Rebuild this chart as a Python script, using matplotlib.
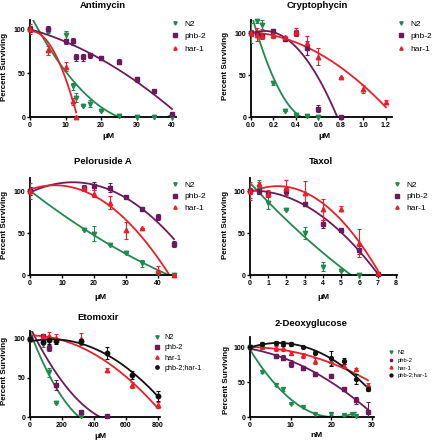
import matplotlib

matplotlib.use("Agg")
import matplotlib.pyplot as plt  # noqa: E402
import numpy as np  # noqa: E402

W, H = 432, 440

GREEN = "#1f8a4e"
PURPLE = "#6b1a5c"
RED = "#e8202a"
BLACK = "#111111"

# ---- Antimycin ----
anti_x = [0, 5, 10, 12, 13, 15, 17, 20, 25, 30, 35, 40]
anti_n2 = [100, 98, 93, 35, 22, 12, 15, 7, 1, 0, 0, 0]
anti_n2_err = [3, 3, 5, 4, 5, 0, 4, 0, 2, 0, 0, 0]
anti_phb2 = [100, 100, 86, 86, 68, 68, 70, 67, 63, 43, 29, 3]
anti_phb2_err = [3, 3, 3, 4, 4, 4, 3, 2, 3, 3, 2, 2]
anti_har1_x = [0, 5, 10, 12, 13]
anti_har1 = [100, 76, 57, 18, 0]
anti_har1_err = [6, 5, 5, 4, 0]

# ---- Cryptophycin ----
cryp_n2_x = [0, 0.05, 0.1, 0.2, 0.3, 0.4, 0.5, 0.6]
cryp_n2 = [100, 114, 110, 40, 7, 2, 1, 0]
cryp_n2_err = [12, 2, 5, 2, 0, 0, 0, 0]
cryp_phb2_x = [0, 0.05, 0.1, 0.2, 0.3, 0.4, 0.5, 0.6, 0.8]
cryp_phb2 = [100, 100, 97, 102, 93, 100, 82, 10, 0]
cryp_phb2_err = [3, 2, 2, 3, 2, 3, 8, 4, 0]
cryp_har1_x = [0, 0.05, 0.1, 0.2, 0.3, 0.4, 0.5, 0.6, 0.8, 1.0, 1.2]
cryp_har1 = [100, 98, 96, 98, 95, 101, 88, 72, 48, 33, 18]
cryp_har1_err = [4, 8, 3, 4, 2, 5, 8, 10, 0, 5, 2]

# ---- Peloruside A ----
pelo_x = [0, 17, 20, 25, 30, 35, 40, 45]
pelo_n2 = [100, 54, 49, 36, 26, 14, 2, 0]
pelo_n2_err = [5, 0, 9, 0, 0, 4, 0, 0]
pelo_phb2 = [100, 104, 106, 104, 93, 79, 69, 37]
pelo_phb2_err = [5, 3, 5, 5, 1, 1, 4, 4]
pelo_har1 = [100, 103, 97, 86, 53, 56, 5, 0]
pelo_har1_err = [10, 3, 4, 8, 10, 0, 6, 0]

# ---- Taxol ----
taxol_n2_x = [0, 0.5, 1, 2, 3, 4, 5, 6]
taxol_n2 = [100, 105, 86, 77, 50, 10, 5, 0]
taxol_n2_err = [8, 8, 8, 0, 7, 5, 0, 0]
taxol_x = [0, 0.5, 1, 2, 3, 4, 5, 6, 7]
taxol_phb2 = [100, 100, 96, 100, 84, 61, 53, 30, 1]
taxol_phb2_err = [4, 3, 3, 3, 2, 5, 2, 5, 1]
taxol_har1 = [100, 108, 97, 104, 98, 78, 79, 38, 2]
taxol_har1_err = [11, 3, 4, 9, 14, 13, 3, 17, 2]

# ---- Etomoxir ----
eto_n2_x = [0, 80, 120, 160, 320]
eto_n2 = [100, 93, 57, 18, 1]
eto_n2_err = [3, 4, 6, 0, 0]
eto_phb2_x = [0, 80, 120, 160, 320, 480]
eto_phb2 = [100, 103, 88, 41, 7, 1]
eto_phb2_err = [3, 2, 4, 6, 0, 0]
eto_x = [0, 80, 120, 160, 320, 480, 640, 800]
eto_har1 = [100, 104, 104, 101, 100, 60, 41, 15]
eto_har1_err = [3, 2, 5, 5, 8, 3, 4, 4]
eto_double = [100, 96, 98, 97, 97, 82, 54, 27]
eto_double_err = [3, 3, 4, 3, 3, 8, 5, 6]

# ---- 2-Deoxyglucose ----
dg_n2_x = [0, 3, 6.5, 8, 10, 13, 16, 20, 23, 25, 26]
dg_n2 = [100, 65, 46, 40, 18, 14, 4, 5, 3, 5, 2]
dg_n2_err = [2, 2, 2, 3, 0, 0, 0, 2, 2, 0, 0]
dg_phb2_x = [0, 6.5, 8, 10, 13, 16, 20, 23, 26, 29]
dg_phb2 = [100, 87, 85, 76, 70, 61, 59, 40, 24, 7]
dg_phb2_err = [3, 3, 3, 5, 3, 3, 3, 2, 5, 15]
dg_x = [0, 3, 6.5, 8, 10, 13, 16, 20, 23, 26, 29]
dg_har1 = [100, 100, 98, 98, 91, 88, 80, 80, 73, 68, 46]
dg_har1_err = [3, 2, 3, 3, 2, 3, 4, 5, 3, 2, 2]
dg_double = [100, 104, 106, 105, 104, 100, 92, 84, 80, 54, 40]
dg_double_err = [3, 3, 3, 3, 3, 1, 2, 11, 4, 7, 3]

FONT = "Liberation Sans"
plt.rcParams["font.family"] = [FONT, "DejaVu Sans"]


def fx(px):
    return px / W


def fy(py):
    return 1 - py / H


def add_panel(fig, left, right, top, bottom, xlim, ylim, xticks, xfmt):
    ax = fig.add_axes([fx(left), fy(bottom), (right - left) / W, (bottom - top) / H])
    ax.set_xlim(*xlim)
    ax.set_ylim(*ylim)
    ax.set_xticks(xticks)
    ax.set_xticklabels([xfmt.format(t) for t in xticks])
    ax.set_yticks([0, 50, 100])
    for side in ("top", "right"):
        ax.spines[side].set_visible(False)
    for side in ("left", "bottom"):
        ax.spines[side].set_linewidth(1.3)
    ax.tick_params(direction="out", length=2.5, width=1.0, pad=1, labelsize=5)
    for lab in ax.get_xticklabels() + ax.get_yticklabels():
        lab.set_fontweight("bold")
    ax.patch.set_alpha(0)
    return ax


def series(ax, x, y, err, color, marker, label, ms=3.2):
    x = np.asarray(x, dtype=float)
    y = np.asarray(y, dtype=float)
    coef = np.polyfit(x, y, 2)
    xs = np.linspace(0, x.max(), 300)
    ax.plot(xs, np.polyval(coef, xs), color=color, lw=1.3, zorder=2)
    ax.errorbar(x, y, yerr=err, fmt="none", ecolor=color, elinewidth=0.8,
                capsize=1.6, capthick=0.8, zorder=3)
    ax.plot(x, y, linestyle="none", marker=marker, color=color, ms=ms,
            clip_on=False, zorder=4, label=label)


def legend(ax, fig, x, y, size, spacing):
    ax.legend(loc="upper left", bbox_to_anchor=(fx(x), fy(y)),
              bbox_transform=fig.transFigure, frameon=False, fontsize=size,
              handlelength=1.0, handletextpad=0.6, borderpad=0,
              borderaxespad=0, labelspacing=spacing, markerscale=0.75)


def labels(fig, title, tpos, xlab, xpos, ypos):
    fig.text(fx(tpos[0]), fy(tpos[1]), title, ha="center", va="center",
             fontsize=6.8, fontweight="bold")
    fig.text(fx(xpos[0]), fy(xpos[1]), xlab, ha="center", va="center",
             fontsize=6, fontweight="bold")
    fig.text(fx(ypos[0]), fy(ypos[1]), "Percent Surviving", ha="center",
             va="center", rotation=90, fontsize=5.8, fontweight="bold")


fig = plt.figure(figsize=(W / 100, H / 100), dpi=100)

# Antimycin
ax = add_panel(fig, 30, 175.6, 20.2, 117, (0, 41), (0, 110), [0, 10, 20, 30, 40], "{:g}")
series(ax, anti_x, anti_n2, anti_n2_err, GREEN, "v", "N2")
series(ax, anti_x, anti_phb2, anti_phb2_err, PURPLE, "s", "phb-2")
series(ax, anti_har1_x, anti_har1, anti_har1_err, RED, "^", "har-1")
legend(ax, fig, 171, 20, 6, 0.55)
labels(fig, "Antimycin", (103, 5), "μM", (108, 137), (5, 67))

# Cryptophycin
ax = add_panel(fig, 251, 391.6, 20.4, 117, (0, 1.25), (0, 115),
               [0, 0.2, 0.4, 0.6, 0.8, 1.0, 1.2], "{:.1f}")
series(ax, cryp_n2_x, cryp_n2, cryp_n2_err, GREEN, "v", "N2")
series(ax, cryp_phb2_x, cryp_phb2, cryp_phb2_err, PURPLE, "s", "phb-2")
series(ax, cryp_har1_x, cryp_har1, cryp_har1_err, RED, "^", "har-1")
legend(ax, fig, 397, 20, 6, 0.55)
labels(fig, "Cryptophycin", (317, 5), "μM", (324, 137), (225, 66))

# Peloruside A
ax = add_panel(fig, 30, 175.6, 178.4, 275, (0, 45.5), (0, 115), [0, 10, 20, 30, 40], "{:g}")
series(ax, pelo_x, pelo_n2, pelo_n2_err, GREEN, "v", "N2")
series(ax, pelo_x, pelo_phb2, pelo_phb2_err, PURPLE, "s", "phb-2")
series(ax, pelo_x, pelo_har1, pelo_har1_err, RED, "^", "har-1")
legend(ax, fig, 171, 181, 6, 0.45)
labels(fig, "Peloruside A", (103, 162), "μM", (100, 297), (5, 225))

# Taxol
ax = add_panel(fig, 250, 396.9, 178.4, 275, (0, 8.05), (0, 115), list(range(9)), "{:g}")
series(ax, taxol_n2_x, taxol_n2, taxol_n2_err, GREEN, "v", "N2")
series(ax, taxol_x, taxol_phb2, taxol_phb2_err, PURPLE, "s", "phb-2")
series(ax, taxol_x, taxol_har1, taxol_har1_err, RED, "^", "har-1")
legend(ax, fig, 393, 181, 6, 0.45)
labels(fig, "Taxol", (321, 162), "μM", (323, 297), (225, 225))

# Etomoxir
ax = add_panel(fig, 30, 159.6, 331, 417, (0, 810), (0, 110), [0, 200, 400, 600, 800], "{:g}")
series(ax, eto_n2_x, eto_n2, eto_n2_err, GREEN, "v", "N2")
series(ax, eto_phb2_x, eto_phb2, eto_phb2_err, PURPLE, "s", "phb-2")
series(ax, eto_x, eto_har1, eto_har1_err, RED, "^", "har-1")
series(ax, eto_x, eto_double, eto_double_err, BLACK, "o", "phb-2;har-1")
legend(ax, fig, 153, 334, 5.2, 0.45)
labels(fig, "Etomoxir", (98, 317), "μM", (100, 436), (5, 371))

# 2-Deoxyglucose
ax = add_panel(fig, 250, 374, 336.5, 417, (0, 30.5), (0, 115), [0, 10, 20, 30], "{:g}")
series(ax, dg_n2_x, dg_n2, dg_n2_err, GREEN, "v", "N2", ms=2.8)
series(ax, dg_phb2_x, dg_phb2, dg_phb2_err, PURPLE, "s", "phb-2", ms=2.8)
series(ax, dg_x, dg_har1, dg_har1_err, RED, "^", "har-1", ms=2.8)
series(ax, dg_x, dg_double, dg_double_err, BLACK, "o", "phb-2;har-1", ms=2.8)
legend(ax, fig, 388, 350, 4.2, 0.45)
labels(fig, "2-Deoxyglucose", (311, 323), "nM", (316, 435), (226, 380))

fig.savefig("out.png", dpi=100)
